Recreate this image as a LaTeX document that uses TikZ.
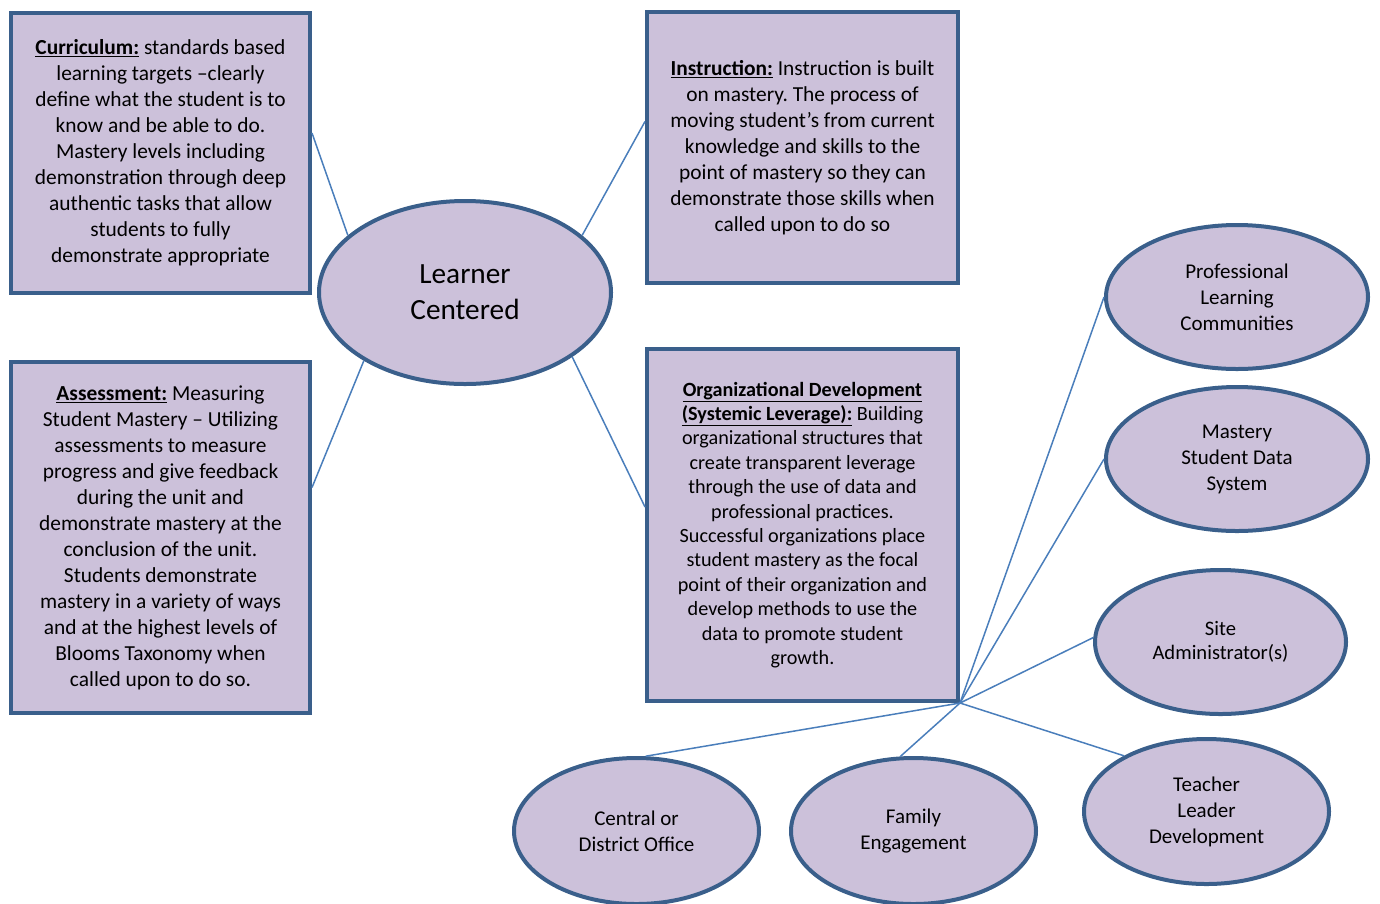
\documentclass[tikz,border=0pt]{standalone}
\usepackage{fontspec}
\setmainfont{Carlito}
\usepackage{tikz}
\usetikzlibrary{shapes.geometric}
\definecolor{boxfill}{HTML}{CCC1DA}
\definecolor{boxline}{HTML}{3A5F8B}
\definecolor{linkline}{HTML}{4A7EBB}
\frenchspacing
\begin{document}
\begin{tikzpicture}[x=1pt, y=-1pt,
    every node/.style={inner sep=1pt}]

    \tikzstyle{textbox}=[rectangle, draw=boxline, line width=4pt, fill=boxfill, align=center, text=black, font=\fontsize{21.4}{26}\selectfont]
    \tikzstyle{ovalnode}=[ellipse, draw=boxline, line width=4pt, fill=boxfill, align=center, text=black, font=\fontsize{21}{26}\selectfont]
    \tikzstyle{link}=[draw=linkline, line width=1.5pt]

    \useasboundingbox (0,0) rectangle (1380,903);

    \node[textbox, minimum width=299pt, minimum height=280pt] (cur) at (160.5,153) {\underline{\textbf{Curriculum:}} standards based\\ learning targets –clearly\\ define what the student is to\\ know and be able to do.\\ Mastery levels including\\ demonstration through deep\\ authentic tasks that allow\\ students to fully\\ demonstrate appropriate};
    \node[textbox, minimum width=299pt, minimum height=351pt] (asm) at (160.5,537.5) {\underline{\textbf{Assessment:}} Measuring\\ Student Mastery – Utilizing\\ assessments to measure\\ progress and give feedback\\ during the unit and\\ demonstrate mastery at the\\ conclusion of the unit.\\ Students demonstrate\\ mastery in a variety of ways\\ and at the highest levels of\\ Blooms Taxonomy when\\ called upon to do so.};
    \node[textbox, minimum width=311pt, minimum height=271pt] (ins) at (802.5,147.5) {\underline{\textbf{Instruction:}} Instruction is built\\ on mastery. The process of\\ moving student’s from current\\ knowledge and skills to the\\ point of mastery so they can\\ demonstrate those skills when\\ called upon to do so};
    \node[textbox, minimum width=311pt, minimum height=352pt, font=\fontsize{20.2}{24.4}\selectfont] (org) at (802.5,525) {\underline{\textbf{Organizational Development}}\\ \underline{\textbf{(Systemic Leverage):}} Building\\ organizational structures that\\ create transparent leverage\\ through the use of data and\\ professional practices.\\ Successful organizations place\\ student mastery as the focal\\ point of their organization and\\ develop methods to use the\\ data to promote student\\ growth.};

    \node[ovalnode, minimum width=292pt, minimum height=183pt, font=\fontsize{29.3}{36}\selectfont] (lc) at (465,292.5) {Learner\\ Centered};

    \node[ovalnode, minimum width=262pt, minimum height=144pt] (plc) at (1237,297) {Professional\\ Learning\\ Communities};
    \node[ovalnode, minimum width=262pt, minimum height=144pt] (msd) at (1237,459) {Mastery\\ Student Data\\ System};
    \node[ovalnode, minimum width=251pt, minimum height=144pt, font=\fontsize{20.6}{24}\selectfont] (site) at (1220.5,642) {Site\\ Administrator(s)};
    \node[ovalnode, minimum width=245pt, minimum height=145pt] (tld) at (1206.5,811.5) {Teacher\\ Leader\\ Development};
    \node[ovalnode, minimum width=245pt, minimum height=146pt] (fam) at (913.5,831) {Family\\ Engagement};
    \node[ovalnode, minimum width=245pt, minimum height=146pt] (cdo) at (636.5,831) {Central or\\ District Office};

    % links from the learner
    \draw[link] (lc.154) -- ([yshift=20pt]cur.east);
    \draw[link] (lc.214) -- ([yshift=50pt]asm.east);
    \draw[link] (lc.26) -- ([yshift=26pt]ins.west);
    \draw[link] (lc.329) -- ([yshift=18pt]org.west);

    % hub at the corner of the org box
    \coordinate (hub) at (org.south east);
    \draw[link] (hub) -- (plc.west);
    \draw[link] (hub) -- (msd.west);
    \draw[link] (hub) -- (site.178);
    \draw[link] (hub) -- (tld.146);
    \draw[link] (hub) -- (fam.100);
    \draw[link] (hub) -- (cdo.83);

    \end{tikzpicture}
\end{document}
